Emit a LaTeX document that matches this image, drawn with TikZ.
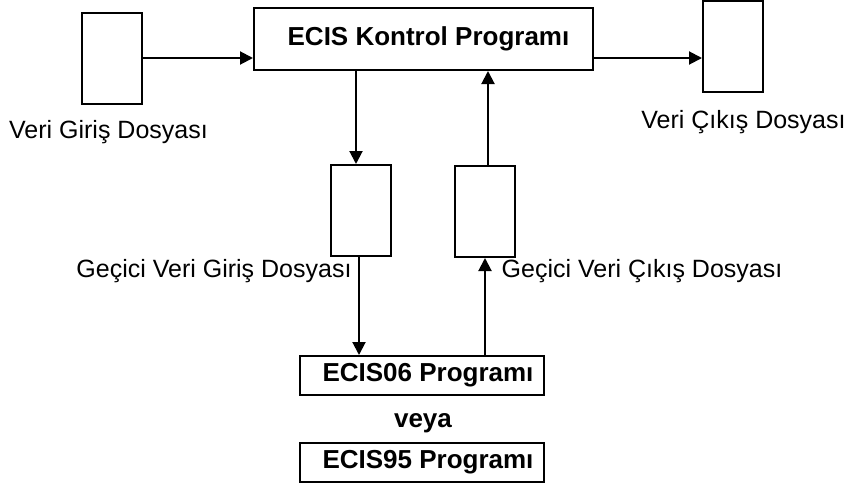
\documentclass[tikz,border=0pt]{standalone}
\usepackage{fontspec}
\setmainfont{Liberation Sans}
\usetikzlibrary{arrows.meta,calc}
\begin{document}
\begin{tikzpicture}[x=1pt,y=-1pt]
\tikzset{
  fbox/.style={draw, line width=2pt, inner sep=0pt, anchor=center},
  filebox/.style={fbox, minimum width=60pt, minimum height=91pt},
  progbox/.style={fbox, minimum width=244pt, minimum height=39pt, font=\fontsize{26}{30}\selectfont\bfseries},
  arr/.style={line width=2pt, -{Triangle[length=13pt,width=13pt]}},
  lbl/.style={font=\fontsize{25}{30}\selectfont, anchor=base, inner sep=0pt},
  blbl/.style={font=\fontsize{26}{30}\selectfont\bfseries, anchor=base, inner sep=0pt}
}
\useasboundingbox (0,0) rectangle (846,485);

\node[filebox] (inbox) at (112,58) {};
\node[fbox, minimum width=339pt, minimum height=62pt, font=\fontsize{26}{30}\selectfont\bfseries] (ctrl) at (423.5,39) {\hspace{10pt}ECIS Kontrol Programı};
\node[filebox] (outbox) at (733,46.5) {};
\node[filebox] (tin) at (361,210.5) {};
\node[filebox] (tout) at (485,211.5) {};
\node[progbox] (e06) at (422,375.5) {\hspace{12pt}ECIS06 Programı};
\node[blbl] (veya) at (423,427) {veya};
\node[progbox] (e95) at (422,462.5) {\hspace{12pt}ECIS95 Programı};

\node[lbl] (linbox) at (108.5,138) {Veri Giriş Dosyası};
\node[lbl] (loutbox) at (743.5,128) {Veri Çıkış Dosyası};
\node[lbl] (ltin) at (214,277) {Geçici Veri Giriş Dosyası};
\node[lbl] (ltout) at (642,277) {Geçici Veri Çıkış Dosyası};

\draw[arr] (inbox.east) -- (inbox.east -| ctrl.west);
\draw[arr] (inbox.east -| ctrl.east) -- (inbox.east -| outbox.west);
\draw[arr] ([xshift=-5pt]ctrl.south -| tin.north) -- ([xshift=-5pt]tin.north);
\draw[arr] ([xshift=3pt]tout.north) -- ([xshift=3pt]tout.north |- ctrl.south);
\draw[arr] ([xshift=-2pt]tin.south) -- ([xshift=-2pt]tin.south |- e06.north);
\draw[arr] (e06.north -| tout.south) -- (tout.south);
\end{tikzpicture}
\end{document}
